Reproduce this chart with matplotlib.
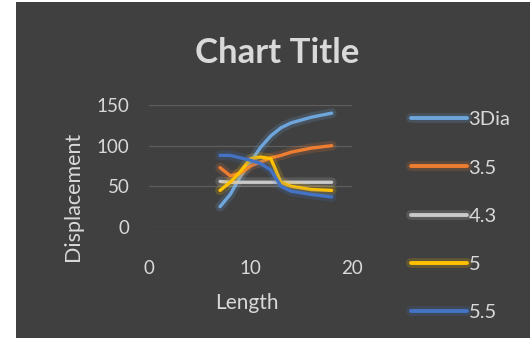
import matplotlib
matplotlib.use("Agg")
import matplotlib.pyplot as plt
import matplotlib.patheffects as pe
from matplotlib.patches import Rectangle

plt.rcParams['font.family'] = ['Lato', 'DejaVu Sans']

# data
length = [7, 8, 9, 10, 11, 12, 13, 14, 16, 18]
dia_3 = [25, 40, 62, 80, 98, 112, 122, 128, 135, 140]
dia_35 = [73, 63, 66, 75, 80, 85, 88, 92, 97, 100]
dia_43 = [56, 55, 55, 55, 55, 55, 55, 55, 55, 55]
dia_5 = [45, 55, 68, 84, 86, 84, 55, 50, 46, 45]
dia_55 = [88, 88, 85, 82, 78, 70, 50, 44, 40, 37]

series = [("3Dia", dia_3, "#6ea6dc"),
          ("3.5", dia_35, "#ed7d31"),
          ("4.3", dia_43, "#c9c9c9"),
          ("5", dia_5, "#ffc000"),
          ("5.5", dia_55, "#4472c4")]

bg = "#404040"
txt = "#d9d9d9"

fig = plt.figure(figsize=(5.3, 3.41), dpi=100)
fig.patch.set_facecolor("white")
fig.patches.append(Rectangle((16 / 530, 3 / 341), 1 - 16 / 530, 1 - 5 / 341,
                             transform=fig.transFigure, facecolor=bg,
                             edgecolor="none", zorder=-10))

ax = fig.add_axes([149 / 530, 114 / 341, 203 / 530, 122 / 341])
ax.set_facecolor("none")

for name, vals, col in series:
    ax.plot(length, vals, color=col, lw=2.4, label=name, solid_capstyle="round",
            path_effects=[pe.Stroke(linewidth=7, foreground=col, alpha=0.18),
                          pe.Normal()])

ax.set_xlim(0, 20)
ax.set_ylim(0, 150)
ax.set_xticks([0, 10, 20])
ax.set_yticks([0, 50, 100, 150])
ax.grid(axis="y", color="#5e5e5e", lw=0.9)
ax.set_axisbelow(True)
for s in ax.spines.values():
    s.set_visible(False)
ax.tick_params(colors=txt, labelsize=13.5, length=0)
ax.tick_params(axis="x", pad=24)
ax.tick_params(axis="y", pad=14)

ax.set_xlabel("Length", color=txt, fontsize=15)
ax.xaxis.label.set_va("center")
ax.xaxis.set_label_coords(0.483, -0.625)
ax.set_ylabel("Displacement", color=txt, fontsize=15.5)
ax.yaxis.label.set_va("center")
ax.yaxis.set_label_coords(-0.374, 0.254)

fig.text(277 / 530, 1 - 53 / 341, "Chart Title", color=txt, fontsize=25,
         fontweight="bold", ha="center", va="center")

leg = ax.legend(loc="upper left", bbox_to_anchor=(393 / 530, 1 - 93 / 341),
                bbox_transform=fig.transFigure, frameon=False, fontsize=14.5,
                labelspacing=1.55, handlelength=2.75, handletextpad=0.1)
for t in leg.get_texts():
    t.set_color(txt)
for h in leg.get_lines():
    h.set_linewidth(2.8)

fig.savefig("out.png", dpi=100, facecolor=fig.get_facecolor())
